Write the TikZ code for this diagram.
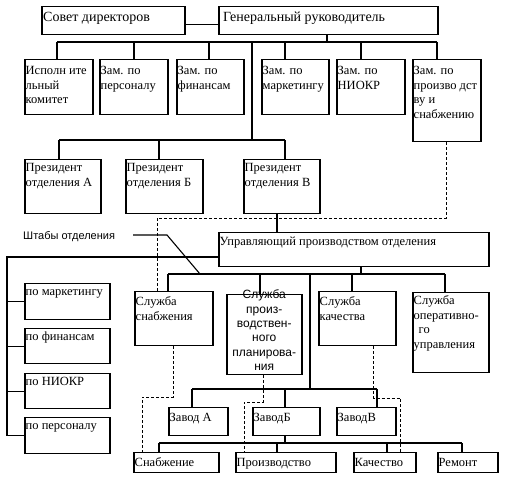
\documentclass[tikz,border=0pt]{standalone}
\usepackage{fontspec}
\setmainfont{Liberation Serif}
\newfontfamily\arialf{Liberation Sans}
\usetikzlibrary{calc}
\newcommand\mlines[1]{\begin{tabular}[t]{@{}l@{}}#1\end{tabular}}
\newcommand\clines[1]{\begin{tabular}[t]{@{}c@{}}#1\end{tabular}}
\begin{document}
\begin{tikzpicture}[x=1pt,y=-1pt,
  box/.style={draw, line width=1.5pt, inner sep=0pt, anchor=north west},
  lbl/.style={anchor=base west, inner sep=0pt, font=\fontsize{12.5}{14.5}\selectfont},
  biglbl/.style={lbl, font=\fontsize{14}{16}\selectfont},
  slbl/.style={anchor=base, inner sep=0pt, font=\arialf\fontsize{12}{14.3}\selectfont},
  con/.style={line width=1.1pt},
  dsh/.style={line width=0.8pt, dash pattern=on 3pt off 2pt}]
\useasboundingbox (0,0) rectangle (523,481);
% boxes
\node[box, minimum width=143, minimum height=28] (sovet) at (41,6) {};
\node[box, minimum width=219, minimum height=28] (gen) at (218,6) {};
\node[box, minimum width=68, minimum height=55] (isp) at (24,59) {};
\node[box, minimum width=68, minimum height=55] (zpers) at (99,59) {};
\node[box, minimum width=67, minimum height=55] (zfin) at (176,59) {};
\node[box, minimum width=67, minimum height=55] (zmark) at (261,59) {};
\node[box, minimum width=68, minimum height=55] (zniokr) at (336,59) {};
\node[box, minimum width=68, minimum height=82] (zpr) at (412,59) {};
\node[box, minimum width=76, minimum height=54] (presA) at (24,159) {};
\node[box, minimum width=77, minimum height=54] (presB) at (125,159) {};
\node[box, minimum width=76, minimum height=54] (presV) at (243,159) {};
\node[box, minimum width=270, minimum height=34] (upr) at (218,232) {};
\node[box, minimum width=85, minimum height=36] (st1) at (24,283) {};
\node[box, minimum width=85, minimum height=35] (st2) at (24,328) {};
\node[box, minimum width=85, minimum height=35] (st3) at (24,373) {};
\node[box, minimum width=85, minimum height=36] (st4) at (24,417) {};
\node[box, minimum width=78, minimum height=54] (sl1) at (134,291) {};
\node[box, minimum width=75, minimum height=80] (sl2) at (226,294) {};
\node[box, minimum width=77, minimum height=54] (sl3) at (318,291) {};
\node[box, minimum width=76, minimum height=80] (sl4) at (412,292) {};
\node[box, minimum width=59, minimum height=28] (zA) at (168,407) {};
\node[box, minimum width=67, minimum height=28] (zB) at (252,407) {};
\node[box, minimum width=59, minimum height=28] (zV) at (336,407) {};
\node[box, minimum width=85, minimum height=20] (b1) at (133,452) {};
\node[box, minimum width=100, minimum height=20] (b2) at (235,452) {};
\node[box, minimum width=62, minimum height=20] (b3) at (353,452) {};
\node[box, minimum width=60, minimum height=20] (b4) at (437,452) {};
% labels
\node[biglbl] (sovet-t) at ($(sovet.north west)+(2,16)$) {\mlines{Совет директоров}};
\node[biglbl] (gen-t) at ($(gen.north west)+(5,16)$) {\mlines{Генеральный руководитель}};
\node[lbl] (isp-t) at ($(isp.north west)+(1.5,16)$) {\mlines{Исполн ите\\льный\\комитет}};
\node[lbl] (zpers-t) at ($(zpers.north west)+(1.5,16)$) {\mlines{Зам. по\\персоналу}};
\node[lbl] (zfin-t) at ($(zfin.north west)+(1.5,16)$) {\mlines{Зам. по\\финансам}};
\node[lbl] (zmark-t) at ($(zmark.north west)+(1.5,16)$) {\mlines{Зам. по\\маркетингу}};
\node[lbl] (zniokr-t) at ($(zniokr.north west)+(1.5,16)$) {\mlines{Зам. по\\НИОКР}};
\node[lbl] (zpr-t) at ($(zpr.north west)+(1.5,16)$) {\mlines{Зам. по\\произво дст\\ву и\\снабжению}};
\node[lbl] (presA-t) at ($(presA.north west)+(1.5,13)$) {\mlines{Президент\\отделения А}};
\node[lbl] (presB-t) at ($(presB.north west)+(1.5,13)$) {\mlines{Президент\\отделения Б}};
\node[lbl] (presV-t) at ($(presV.north west)+(1.5,13)$) {\mlines{Президент\\отделения В}};
\node[lbl] (upr-t) at ($(upr.north west)+(1.5,14)$) {\mlines{Управляющий производством отделения}};
\node[lbl] (st1-t) at ($(st1.north west)+(1.5,13)$) {\mlines{по маркетингу}};
\node[lbl] (st2-t) at ($(st2.north west)+(1.5,13)$) {\mlines{по финансам}};
\node[lbl] (st3-t) at ($(st3.north west)+(1.5,13)$) {\mlines{по НИОКР}};
\node[lbl] (st4-t) at ($(st4.north west)+(1.5,13)$) {\mlines{по персоналу}};
\node[lbl] (sl1-t) at ($(sl1.north west)+(1.5,15)$) {\mlines{Служба\\снабжения}};
\node[slbl] (sl2-t) at ($(sl2.north)+(0,5)$) {\clines{Служба\\произ-\\водствен-\\ного\\планирова-\\ния}};
\node[lbl] (sl3-t) at ($(sl3.north west)+(1.5,15)$) {\mlines{Служба\\качества}};
\node[lbl] (sl4-t) at ($(sl4.north west)+(1.5,13)$) {\mlines{Служба\\оперативно-\\\hspace{5pt}го\\управления}};
\node[lbl] (zA-t) at ($(zA.north west)+(1.5,15)$) {\mlines{Завод А}};
\node[lbl] (zB-t) at ($(zB.north west)+(1.5,15)$) {\mlines{ЗаводБ}};
\node[lbl] (zV-t) at ($(zV.north west)+(1.5,15)$) {\mlines{ЗаводВ}};
\node[lbl] (b1-t) at ($(b1.north west)+(1.5,15)$) {\mlines{Снабжение}};
\node[lbl] (b2-t) at ($(b2.north west)+(1.5,15)$) {\mlines{Производство}};
\node[lbl] (b3-t) at ($(b3.north west)+(1.5,15)$) {\mlines{Качество}};
\node[lbl] (b4-t) at ($(b4.north west)+(1.5,15)$) {\mlines{Ремонт}};
\node[anchor=west, inner sep=0pt, font=\arialf\fontsize{11}{13}\selectfont] (shtab) at (23,237) {Штабы отделения};
% solid connectors
\draw[con] ($(sovet.east)+(0,4)$) -- ($(gen.west)+(0,4)$);
\coordinate (g1) at (327,42);
\draw[con] (gen.south -| g1) -- (g1);
\foreach \xx/\nn in {57/isp,134/zpers,209/zfin,285/zmark,361/zniokr,437/zpr}{
  \coordinate (t-\nn) at (\xx,42);
  \draw[con] (t-\nn) -- (\nn.north -| t-\nn);}
\draw[con] (t-isp) -- (t-zpr);
\coordinate (v1) at (252,42);
\coordinate (v2) at (252,140);
\draw[con] (v1) -- (v2);
\foreach \xx/\nn in {59/presA,159/presB,285/presV}{
  \coordinate (t-\nn) at (\xx,140);
  \draw[con] (t-\nn) -- (\nn.north -| t-\nn);}
\draw[con] (t-presA) -- (t-presV);
\coordinate (pv) at (277,220);
\draw[con] (presV.south -| pv) -- (upr.north -| pv);
\coordinate (lv) at (7,257);
\draw[con] (lv -| upr.west) -- (lv) -- (st4.west -| lv);
\foreach \nn in {st1,st2,st3,st4}{\draw[con] (\nn.west) -- (\nn.west -| lv);}
\coordinate (s1) at (133,235);
\coordinate (s2) at (167,235);
\coordinate (s3) at (200,274);
\draw[con] (s1) -- (s2) -- (s3);
\coordinate (u1) at (361,274);
\draw[con] (upr.south -| u1) -- (u1);
\foreach \xx/\nn in {168/sl1,260/sl2,352/sl3,445/sl4}{
  \coordinate (t-\nn) at (\xx,274);
  \draw[con] (t-\nn) -- (\nn.north -| t-\nn);}
\draw[con] (t-sl1) -- (t-sl4);
\coordinate (w1) at (310,274);
\coordinate (w2) at (310,389);
\draw[con] (w1) -- (w2);
\foreach \xx/\nn in {192/zA,285/zB,377/zV}{
  \coordinate (t-\nn) at (\xx,389);
  \draw[con] (t-\nn) -- (\nn.north -| t-\nn);}
\draw[con] (t-zA) -- (t-zV);
\coordinate (zb1) at (285,443);
\draw[con] (zB.south -| zb1) -- (zb1);
\foreach \xx/\nn in {159/b1,277/b2,387/b3,462/b4}{
  \coordinate (t-\nn) at (\xx,443);
  \draw[con] (t-\nn) -- (\nn.north -| t-\nn);}
\draw[con] (t-b1) -- (t-b4);
% dashed connectors
\coordinate (dA1) at (446,218);
\coordinate (dA2) at (157,218);
\draw[dsh] (zpr.south -| dA1) -- (dA1) -- (dA2) -- (sl1.north -| dA2);
\coordinate (dB1) at (173,397);
\coordinate (dB2) at (142,397);
\draw[dsh] (sl1.south -| dB1) -- (dB1) -- (dB2) -- (b1.north -| dB2);
\coordinate (dC1) at (263,402);
\coordinate (dC2) at (244,402);
\draw[dsh] (sl2.south -| dC1) -- (dC1) -- (dC2) -- (b2.north -| dC2);
\coordinate (dD1) at (373,398);
\coordinate (dD2) at (400,398);
\draw[dsh] (sl3.south -| dD1) -- (dD1) -- (dD2) -- (b3.north -| dD2);
\end{tikzpicture}
\end{document}
